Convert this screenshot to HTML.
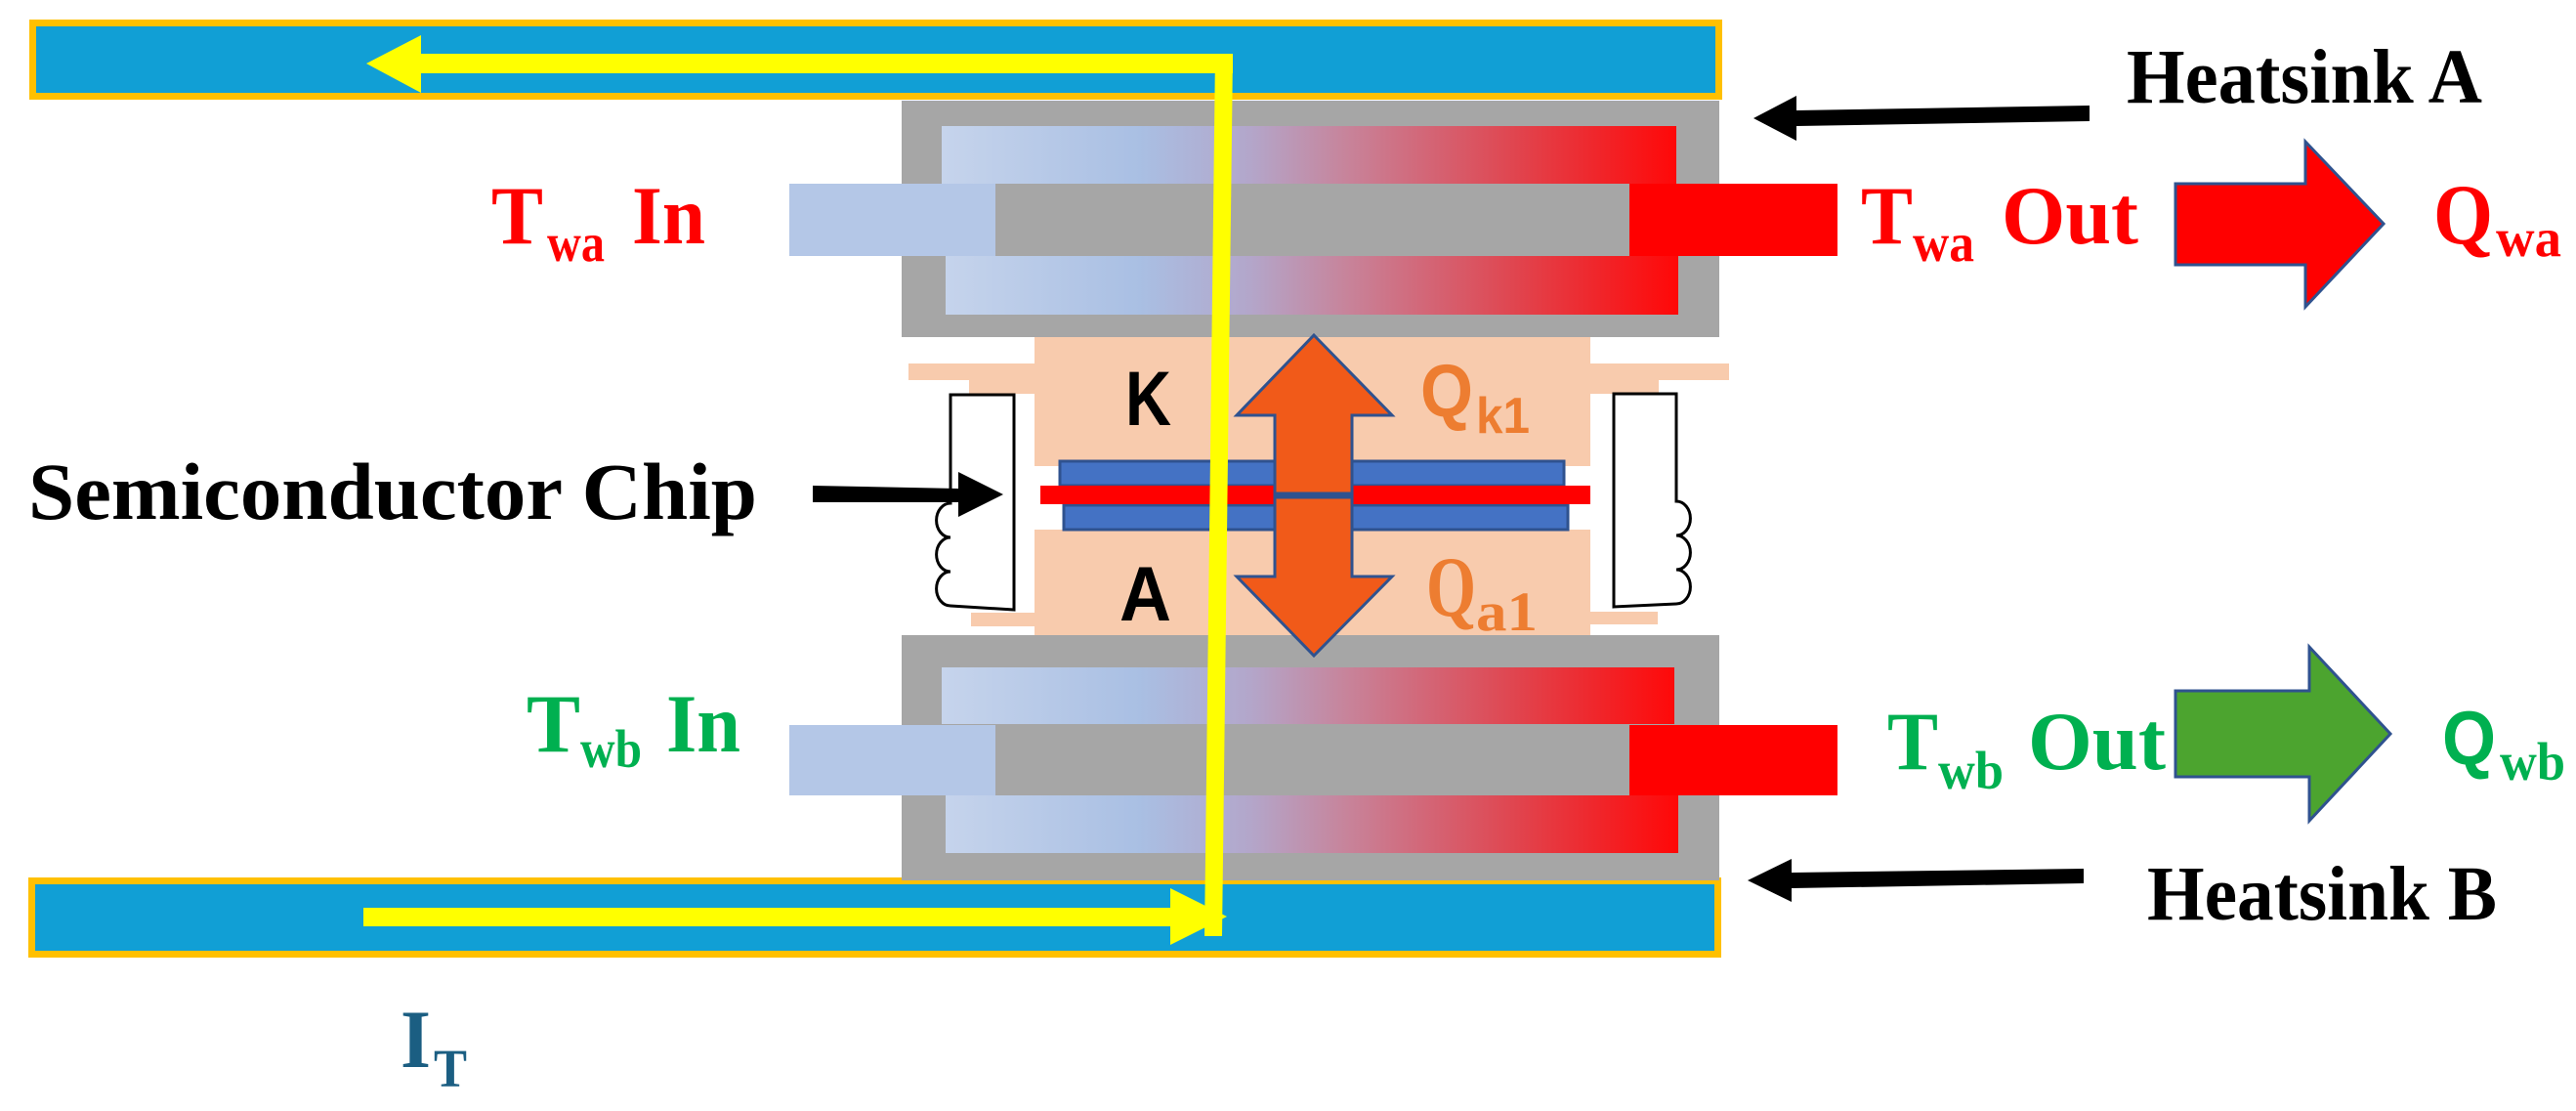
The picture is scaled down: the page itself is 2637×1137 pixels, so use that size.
<!DOCTYPE html>
<html><head><meta charset="utf-8"><style>
html,body{margin:0;padding:0;background:#fff;}
svg{display:block;}
.s{font-family:"Liberation Serif",serif;font-weight:bold;}
.a{font-family:"Liberation Sans",sans-serif;font-weight:bold;}
</style></head><body>
<svg width="2637" height="1137" viewBox="0 0 2637 1137" xmlns="http://www.w3.org/2000/svg">
<defs>
<linearGradient id="g" x1="964" x2="1716" y1="0" y2="0" gradientUnits="userSpaceOnUse">
<stop offset="0" stop-color="#C6D4EC"/>
<stop offset="0.27" stop-color="#A9BFE3"/>
<stop offset="0.42" stop-color="#B3A6CA"/>
<stop offset="0.55" stop-color="#C7849B"/>
<stop offset="0.78" stop-color="#E0454F"/>
<stop offset="1" stop-color="#FF0808"/>
</linearGradient>
</defs>
<rect x="33.5" y="23.5" width="1726" height="75" fill="#119FD5" stroke="#FFC000" stroke-width="7"/>
<rect x="32.5" y="901.5" width="1726" height="75" fill="#119FD5" stroke="#FFC000" stroke-width="7"/>
<rect x="923" y="103" width="837" height="242" fill="#A6A6A6"/>
<rect x="964" y="129" width="752" height="59" fill="url(#g)"/>
<rect x="968" y="262" width="750" height="60" fill="url(#g)"/>
<rect x="808" y="188" width="211" height="74" fill="#B4C7E7"/>
<rect x="1019" y="188" width="649" height="74" fill="#A6A6A6"/>
<rect x="1668" y="188" width="213" height="74" fill="#FF0000"/>
<rect x="923" y="650" width="837" height="251" fill="#A6A6A6"/>
<rect x="964" y="683" width="750" height="58" fill="url(#g)"/>
<rect x="968" y="814" width="750" height="59" fill="url(#g)"/>
<rect x="808" y="742" width="211" height="72" fill="#B4C7E7"/>
<rect x="1019" y="742" width="649" height="72" fill="#A6A6A6"/>
<rect x="1668" y="742" width="213" height="72" fill="#FF0000"/>
<g fill="#F8CBAD">
<rect x="1059" y="345" width="569" height="132"/>
<rect x="930" y="372" width="840" height="17"/>
<rect x="992" y="389" width="67" height="14"/>
<rect x="1628" y="389" width="70" height="14"/>
<rect x="1059" y="542" width="569" height="108"/>
<rect x="994" y="627" width="65" height="14"/>
<rect x="1628" y="626" width="69" height="13"/>
</g>
<rect x="1085" y="472" width="516" height="25" fill="#4472C4" stroke="#2F528F" stroke-width="3"/>
<rect x="1089" y="517" width="516" height="25" fill="#4472C4" stroke="#2F528F" stroke-width="3"/>
<rect x="1065" y="497" width="563" height="19" fill="#FF0000"/>
<path d="M1038,404 L973,404 L973,515 a14,17 0 0 0 0,35 a14,17 0 0 0 0,35 a14,17 0 0 0 0,35 L1038,624 Z" fill="#fff" stroke="#000" stroke-width="3"/>
<path d="M1652,403 L1716,403 L1716,513 a14,17 0 0 1 0,35 a14,17 0 0 1 0,35 a14,17 0 0 1 0,35 L1652,621 Z" fill="#fff" stroke="#000" stroke-width="3"/>
<polygon points="1262,55 1244,55 1233,958 1251,958" fill="#FFFF00"/>
<polygon points="1262,55 431,55 431,36 375,65 431,95 431,75 1262,75" fill="#FFFF00"/>
<polygon points="372,929 1198,929 1198,909 1256,938 1198,967 1198,948 372,948" fill="#FFFF00"/>
<polygon points="1345,343 1425,425 1384,425 1384,590 1425,590 1345,671 1266,590 1305,590 1305,425 1266,425" fill="#F15A19" stroke="#2F528F" stroke-width="3"/>
<line x1="1305" y1="507" x2="1384" y2="507" stroke="#2F528F" stroke-width="7"/>
<polygon points="832,497 981,500 981,483 1027,506 981,529 981,514 832,514" fill="#000"/>
<polygon points="2139,108 1839,113 1839,98 1795,121 1839,144 1839,129 2139,124" fill="#000"/>
<polygon points="2133,889 1834,893 1834,879 1789,901 1834,923 1834,909 2133,904" fill="#000"/>
<polygon points="2227,188 2360,188 2360,145 2440,229 2360,314 2360,271 2227,271" fill="#FF0000" stroke="#2F528F" stroke-width="3"/>
<polygon points="2227,707 2364,707 2364,662 2447,751 2364,840 2364,795 2227,795" fill="#4CA42F" stroke="#2F528F" stroke-width="3"/>
<text class="s" x="29" y="531" font-size="83" textLength="746" lengthAdjust="spacingAndGlyphs">Semiconductor Chip</text>
<text class="s" x="2177" y="105" font-size="79" textLength="364" lengthAdjust="spacingAndGlyphs">Heatsink A</text>
<text class="s" x="2198" y="941" font-size="79" textLength="358" lengthAdjust="spacingAndGlyphs">Heatsink B</text>
<g fill="#FF0000">
<text class="s" x="503" y="249" font-size="85" textLength="53" lengthAdjust="spacingAndGlyphs">T</text>
<text class="s" x="560" y="267" font-size="55" textLength="59" lengthAdjust="spacingAndGlyphs">wa</text>
<text class="s" x="647" y="249" font-size="85" textLength="75" lengthAdjust="spacingAndGlyphs">In</text>
<text class="s" x="1905" y="249" font-size="85" textLength="53" lengthAdjust="spacingAndGlyphs">T</text>
<text class="s" x="1958" y="267" font-size="55" textLength="63" lengthAdjust="spacingAndGlyphs">wa</text>
<text class="s" x="2049" y="249" font-size="85" textLength="140" lengthAdjust="spacingAndGlyphs">Out</text>
<text class="s" x="2491" y="249" font-size="88" textLength="61" lengthAdjust="spacingAndGlyphs">Q</text>
<text class="s" x="2555" y="262" font-size="55" textLength="67" lengthAdjust="spacingAndGlyphs">wa</text>
</g>
<g fill="#00B050">
<text class="s" x="539" y="769" font-size="85" textLength="55" lengthAdjust="spacingAndGlyphs">T</text>
<text class="s" x="594" y="785" font-size="55" textLength="63" lengthAdjust="spacingAndGlyphs">wb</text>
<text class="s" x="682" y="769" font-size="85" textLength="76" lengthAdjust="spacingAndGlyphs">In</text>
<text class="s" x="1932" y="787" font-size="85" textLength="52" lengthAdjust="spacingAndGlyphs">T</text>
<text class="s" x="1984" y="807" font-size="55" textLength="67" lengthAdjust="spacingAndGlyphs">wb</text>
<text class="s" x="2076" y="787" font-size="85" textLength="141" lengthAdjust="spacingAndGlyphs">Out</text>
<text class="a" x="2500" y="782" font-size="78" textLength="55" lengthAdjust="spacingAndGlyphs">Q</text>
<text class="s" x="2559" y="798" font-size="55" textLength="67" lengthAdjust="spacingAndGlyphs">wb</text>
</g>
<g fill="#ED7D31">
<text class="a" x="1454" y="426" font-size="76" textLength="54" lengthAdjust="spacingAndGlyphs">Q</text>
<text class="a" x="1511" y="443" font-size="52" textLength="55" lengthAdjust="spacingAndGlyphs">k1</text>
<text class="s" x="1460" y="630" font-size="88" textLength="51" lengthAdjust="spacingAndGlyphs">Q</text>
<text class="s" x="1511" y="645" font-size="57" textLength="63" lengthAdjust="spacingAndGlyphs">a1</text>
</g>
<text class="a" x="1152" y="435" font-size="79" textLength="47" lengthAdjust="spacingAndGlyphs">K</text>
<text class="a" x="1146" y="635" font-size="79" textLength="53" lengthAdjust="spacingAndGlyphs">A</text>
<g fill="#1B5E82">
<text class="s" x="410" y="1092" font-size="85" textLength="31" lengthAdjust="spacingAndGlyphs">I</text>
<text class="s" x="444" y="1112" font-size="55" textLength="34" lengthAdjust="spacingAndGlyphs">T</text>
</g>
</svg>
</body></html>
